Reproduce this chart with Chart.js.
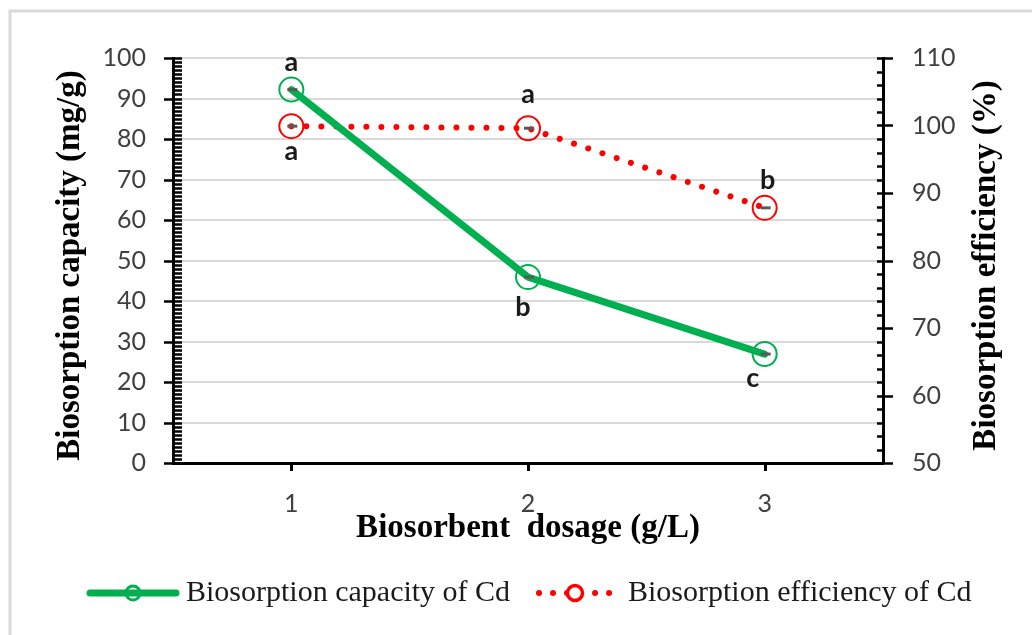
<!DOCTYPE html>
<html><head><meta charset="utf-8">
<script src="https://cdn.jsdelivr.net/npm/chart.js@4/dist/chart.umd.min.js"></script>
<style>html,body{margin:0;padding:0;background:#fff}canvas{display:block}</style>
</head><body>
<canvas id="c" width="1032" height="635"></canvas>
<script>
// ---- data ----
const dosages = ['1', '2', '3'];
const capacity = [92.2, 45.9, 26.9];          // mg/g (left axis)
const efficiency = [99.9, 99.6, 87.8];        // % (right axis)
const capacityLetters = ['a', 'b', 'c'];
const efficiencyLetters = ['a', 'a', 'b'];
const capacityAxis = [0, 100, 10];            // min, max, step
const efficiencyAxis = [50, 110, 10];
const seriesNames = ['Biosorption capacity of Cd', 'Biosorption efficiency of Cd'];
const axisTitles = ['Biosorbent  dosage (g/L)', 'Biosorption capacity (mg/g)', 'Biosorption efficiency (%)'];

// ---- style ----
const GREEN = '#00B050', RED = '#FF0000';
const tickFont = {family: 'Lato', size: 25};
const titleFont = {family: '"Liberation Serif"', size: 33, weight: 'bold'};
const letterOffsets = {
  capacity: [[0, -19], [-5, 39], [-12, 33]],
  efficiency: [[0, 34], [0, -25], [3, -19]]
};

function drawVerticalTitle(ctx, text, x, y) {
  ctx.save();
  ctx.translate(x, y);
  ctx.rotate(-Math.PI / 2);
  ctx.font = 'bold 33px "Liberation Serif"';
  ctx.fillStyle = '#000';
  ctx.textAlign = 'center';
  ctx.textBaseline = 'middle';
  ctx.fillText(text, 0, 0);
  ctx.restore();
}

const decor = {
  id: 'decor',
  beforeDraw(chart) {
    const ctx = chart.ctx;
    ctx.save();
    ctx.fillStyle = '#fff';
    ctx.fillRect(0, 0, chart.width, chart.height);
    ctx.strokeStyle = '#d9d9d9';
    ctx.lineWidth = 3;
    ctx.beginPath();
    ctx.moveTo(10, chart.height);
    ctx.lineTo(10, 11);
    ctx.lineTo(chart.width, 11);
    ctx.stroke();
    ctx.restore();
  },
  afterDatasetsDraw(chart) {
    const ctx = chart.ctx;
    ctx.save();
    // small error-bar caps
    ctx.strokeStyle = '#595959';
    ctx.lineWidth = 3;
    chart.data.datasets.forEach((ds, di) => {
      chart.getDatasetMeta(di).data.forEach(p => {
        ctx.beginPath();
        ctx.moveTo(p.x - 4, p.y);
        ctx.lineTo(p.x + 6, p.y);
        ctx.stroke();
      });
    });
    // letters
    ctx.fillStyle = '#1a1a1a';
    ctx.font = 'bold 27px Lato';
    ctx.textAlign = 'center';
    ctx.textBaseline = 'alphabetic';
    const groups = [[capacityLetters, letterOffsets.capacity], [efficiencyLetters, letterOffsets.efficiency]];
    groups.forEach(([letters, offs], di) => {
      chart.getDatasetMeta(di).data.forEach((p, i) => {
        ctx.fillText(letters[i], p.x + offs[i][0], p.y + offs[i][1]);
      });
    });
    ctx.restore();
  },
  afterDraw(chart) {
    const {ctx, scales: {x, y, y1}} = chart;
    ctx.save();
    ctx.strokeStyle = '#000';
    ctx.lineWidth = 2.5;
    // left axis ticks (major every 10, minor every 1)
    for (let v = capacityAxis[0]; v <= capacityAxis[1]; v += 1) {
      const p = Math.round(y.getPixelForValue(v)) + 0.5;
      const major = v % capacityAxis[2] === 0;
      ctx.beginPath();
      ctx.moveTo(major ? y.right - 9 : y.right, p);
      ctx.lineTo(y.right + 9, p);
      ctx.stroke();
    }
    // right axis ticks (major every 10, minor every 2)
    for (let v = efficiencyAxis[0]; v <= efficiencyAxis[1]; v += 2) {
      const p = Math.round(y1.getPixelForValue(v)) + 0.5;
      const major = (v - efficiencyAxis[0]) % efficiencyAxis[2] === 0;
      ctx.beginPath();
      ctx.moveTo(y1.left - 6, p);
      ctx.lineTo(major ? y1.left + 10 : y1.left, p);
      ctx.stroke();
    }
    // x ticks
    ctx.lineWidth = 3;
    dosages.forEach((d, i) => {
      const px = Math.round(x.getPixelForValue(i)) + 0.5;
      ctx.beginPath();
      ctx.moveTo(px, x.top);
      ctx.lineTo(px, x.top + 8);
      ctx.stroke();
    });

    // vertical axis titles (both read bottom-to-top)
    const midY = (y.top + y.bottom) / 2 + 5;
    drawVerticalTitle(ctx, axisTitles[1], 70, midY);
    drawVerticalTitle(ctx, axisTitles[2], 986, midY);

    // legend
    const ly = 593;
    ctx.lineCap = 'round';
    ctx.strokeStyle = GREEN;
    ctx.lineWidth = 7;
    ctx.beginPath(); ctx.moveTo(90, ly); ctx.lineTo(176, ly); ctx.stroke();
    ctx.lineWidth = 3;
    ctx.beginPath(); ctx.arc(133, ly, 7, 0, Math.PI * 2); ctx.stroke();

    ctx.strokeStyle = RED;
    ctx.lineWidth = 6;
    ctx.setLineDash([0.01, 14]);
    ctx.beginPath(); ctx.moveTo(539, ly); ctx.lineTo(611, ly); ctx.stroke();
    ctx.setLineDash([]);
    ctx.fillStyle = '#fff';
    ctx.lineWidth = 3.5;
    ctx.beginPath(); ctx.arc(575, ly, 7.5, 0, Math.PI * 2); ctx.fill(); ctx.stroke();

    ctx.fillStyle = '#1a1a1a';
    ctx.font = '30px "Liberation Serif"';
    ctx.textAlign = 'left';
    ctx.textBaseline = 'middle';
    ctx.fillText(seriesNames[0], 186, ly);
    ctx.fillText(seriesNames[1], 628, ly);
    ctx.restore();
  }
};

new Chart(document.getElementById('c'), {
  type: 'line',
  data: {
    labels: dosages,
    datasets: [
      {label: seriesNames[0], data: capacity, yAxisID: 'y', borderColor: GREEN, borderWidth: 7,
       borderCapStyle: 'round', borderJoinStyle: 'round', tension: 0, fill: false,
       pointRadius: 12, pointHoverRadius: 12, pointBorderWidth: 2, pointBorderColor: GREEN,
       pointBackgroundColor: 'rgba(0,0,0,0)'},
      {label: seriesNames[1], data: efficiency, yAxisID: 'y1', borderColor: RED, borderWidth: 6,
       borderDash: [0.01, 15], borderCapStyle: 'round', tension: 0, fill: false,
       pointRadius: 12, pointHoverRadius: 12, pointBorderWidth: 2, pointBorderColor: RED,
       pointBackgroundColor: 'rgba(0,0,0,0)'}
    ]
  },
  options: {
    responsive: false, animation: false, devicePixelRatio: 1, events: [],
    layout: {padding: {top: 58, left: 0, right: 0, bottom: 0}},
    plugins: {legend: {display: false}, tooltip: {enabled: false}},
    scales: {
      x: {
        type: 'category', offset: true,
        grid: {display: false, drawTicks: false},
        border: {display: true, color: '#000', width: 3},
        ticks: {padding: 26, font: tickFont, color: '#404040'},
        title: {display: true, text: axisTitles[0], font: titleFont, color: '#000', padding: {top: 0, bottom: 87}},
        afterFit(s) { s.height = 172; }
      },
      y: {
        position: 'left', min: capacityAxis[0], max: capacityAxis[1],
        ticks: {stepSize: capacityAxis[2], padding: 27, font: tickFont, color: '#404040'},
        grid: {color: '#d9d9d9', lineWidth: 2, drawTicks: false},
        border: {display: true, color: '#000', width: 3},
        title: {display: false},
        afterFit(s) { s.width = 173; }
      },
      y1: {
        position: 'right', min: efficiencyAxis[0], max: efficiencyAxis[1],
        ticks: {stepSize: efficiencyAxis[2], padding: 29, font: tickFont, color: '#404040'},
        grid: {display: false, drawTicks: false},
        border: {display: true, color: '#000', width: 3},
        title: {display: false},
        afterFit(s) { s.width = 149; }
      }
    }
  },
  plugins: [decor]
});
</script>
</body></html>
